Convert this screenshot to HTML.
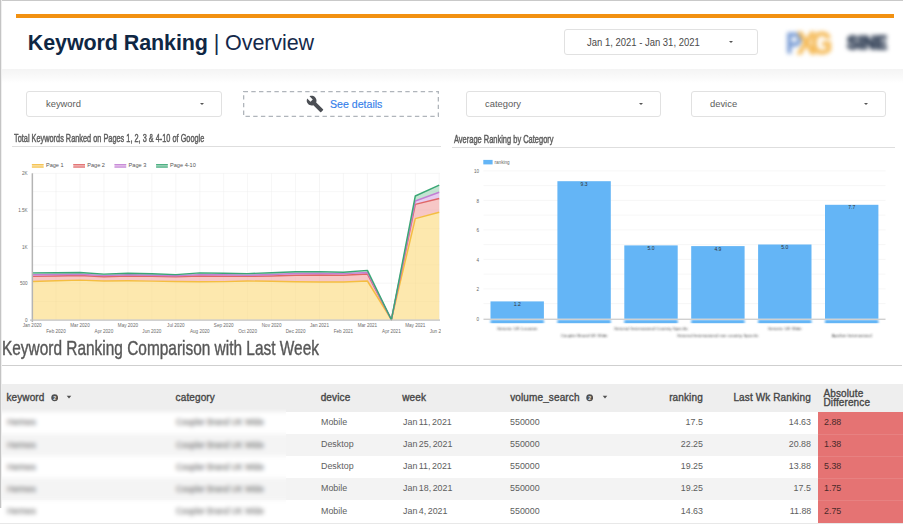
<!DOCTYPE html>
<html>
<head>
<meta charset="utf-8">
<title>Keyword Ranking | Overview</title>
<style>
*{box-sizing:border-box;margin:0;padding:0}
html,body{width:903px;height:524px;overflow:hidden;background:#fff;font-family:"Liberation Sans",sans-serif;}
#page{position:relative;width:903px;height:524px;overflow:hidden;background:#fff}
.abs{position:absolute}
.t{position:absolute;white-space:nowrap;line-height:1;transform-origin:0 50%}
#bt{left:0;top:0;width:903px;height:1px;background:#c9c9c9}
#bl{left:0;top:0;width:2px;height:508px;background:linear-gradient(90deg,#c4c4c4 50%,#efefef 50%)}
#hdr{left:2px;top:1px;width:901px;height:67px;background:#fff}
#shadow{left:2px;top:68.5px;width:901px;height:14px;background:linear-gradient(#f4f4f4,#fafafa 60%,#fff)}
#obar{left:16px;top:13.8px;width:877.6px;height:4px;background:#f29111}
#ttl{left:27.8px;top:33.2px;font-size:21.5px;color:#0f2744;font-weight:700;letter-spacing:-0.1px}
#ttl span{font-weight:400;color:#15294a}
.dd{position:absolute;border:1px solid #e1e1e1;border-radius:3px;background:#fff;height:26px}
.dd .lbl{position:absolute;top:50%;transform:translateY(-50%);font-size:9.4px;color:#5c5c5c;white-space:nowrap;line-height:1}
.dd .arr{position:absolute;top:11px;width:0;height:0;border-left:2.2px solid transparent;border-right:2.2px solid transparent;border-top:2.4px solid #555}
#dashed{left:243px;top:91px;width:196px;height:26px}
#see{left:330px;top:98.5px;font-size:10.6px;color:#3580ea;-webkit-text-stroke:0.15px #3580ea}
.ct{font-family:"Liberation Sans",sans-serif}
.cond{font-size:10.7px;color:#5a5a5a;-webkit-text-stroke:0.45px #606060;transform:scaleX(0.68);transform-origin:0 50%}
.th{font-size:10px;letter-spacing:0.12px;font-weight:400;color:#444;-webkit-text-stroke:0.35px #484848;transform:translateY(-50%)}
.td{font-size:9.2px;color:#5e5e5e;transform:translateY(-50%) scaleX(0.967)}
.t.r{transform-origin:100% 50%}
.bl{color:#8a8a8a;font-size:8.5px;-webkit-text-stroke:0.3px #8a8a8a}
.dt{word-spacing:-1px}
#ct1{transform:scaleX(0.6875)}
#ct2{transform:scaleX(0.699)}
#big{transform:scaleX(0.749)}
</style>
</head>
<body>
<div id="page">
  <div id="hdr" class="abs"></div>
  <div id="shadow" class="abs"></div>
  <div id="obar" class="abs"></div>
  <div id="ttl" class="t">Keyword Ranking <span>| Overview</span></div>

  <div class="dd" style="left:564px;top:29px;width:194px;height:26px">
    <div class="lbl" style="left:22px;top:13.4px;font-size:10.2px;color:#4a4a4a;transform:translateY(-50%) scaleX(0.93);transform-origin:0 50%">Jan 1, 2021 - Jan 31, 2021</div>
    <div class="arr" style="left:164px;top:11.2px"></div>
  </div>

  <div class="abs" style="left:780px;top:22px;width:60px;height:40px;filter:blur(1.9px)">
    <div class="t" style="left:5.5px;top:20.5px;transform:translateY(-50%) scaleX(0.8);font-size:30px;font-weight:700;color:#7a9dd5;-webkit-text-stroke:0.8px #7a9dd5">P</div>
    <div class="t" style="left:16.5px;top:21px;transform:translateY(-50%) scaleX(0.86);font-size:32px;font-weight:700;color:#f5bc5c;letter-spacing:-5px;-webkit-text-stroke:1px #f5bc5c">XG</div>
  </div>
  <div class="abs" style="left:838px;top:26px;width:60px;height:34px;filter:blur(2.2px)">
    <div class="t" style="left:8.5px;top:17.5px;transform:translateY(-50%) scaleX(0.98);font-size:17.5px;font-weight:700;color:#36445a;letter-spacing:0px;-webkit-text-stroke:1.6px #36445a">SINE</div>
  </div>

  <div class="dd" style="left:26px;top:91px;width:196px"><div class="lbl" style="left:19px">keyword</div><div class="arr" style="left:173px"></div></div>
  <svg id="dashed" class="abs" viewBox="0 0 196 26"><rect x="0.6" y="0.6" width="194.8" height="24.8" fill="#fff" stroke="#b0b5bb" stroke-width="1.4" stroke-dasharray="4.4 3.3"/></svg>
  <svg class="abs" style="left:305.5px;top:95px;width:18px;height:18px" viewBox="0 0 24 24"><path fill="#4c4f55" d="M22.7 19l-9.1-9.1c.9-2.3.4-5-1.500-6.900-2-2-5-2.400-7.400-1.300L9 6 6 9 1.600 4.700C.4 7.100.9 10.100 2.900 12.100c1.900 1.900 4.600 2.400 6.900 1.500l9.100 9.100c.4.400 1 .400 1.400 0l2.300-2.300c.5-.4.500-1.100.1-1.400z"/></svg>
  <div id="see" class="t">See details</div>
  <div class="dd" style="left:466px;top:91px;width:195px"><div class="lbl" style="left:18px">category</div><div class="arr" style="left:172px"></div></div>
  <div class="dd" style="left:691px;top:91px;width:195px"><div class="lbl" style="left:18px">device</div><div class="arr" style="left:172px"></div></div>


  <div class="t cond" id="ct1" style="left:13.7px;top:133.4px">Total Keywords Ranked on Pages 1, 2, 3 &amp; 4-10 of Google</div>
  <div class="abs" style="left:11.5px;top:146px;width:429.5px;height:1.3px;background:#dedede"></div>
  <div class="t cond" id="ct2" style="left:454.3px;top:133.9px">Average Ranking by Category</div>
  <div class="abs" style="left:452px;top:147.1px;width:443px;height:1.3px;background:#dedede"></div>

<svg class="abs" style="left:0;top:0;width:452px;height:345px" viewBox="0 0 452 345">
<defs><clipPath id="cl"><rect x="0" y="150" width="441" height="195"/></clipPath></defs>
<g clip-path="url(#cl)">
<path d="M32 173.4H440M32 191.7H440M32 210.0H440M32 228.3H440M32 246.6H440M32 264.9H440M32 283.1H440M32 301.4H440M32 319.7H440M56.0 173.3V319.7M80.0 173.3V319.7M103.9 173.3V319.7M127.9 173.3V319.7M151.8 173.3V319.7M175.8 173.3V319.7M199.8 173.3V319.7M223.7 173.3V319.7M247.6 173.3V319.7M271.6 173.3V319.7M295.6 173.3V319.7M319.5 173.3V319.7M343.4 173.3V319.7M367.4 173.3V319.7M391.4 173.3V319.7M415.3 173.3V319.7M439.2 173.3V319.7" stroke="#f7f7f7" stroke-width="0.8" fill="none"/>
<polygon points="32.1,281.5 56.0,280.8 80.0,280.1 103.9,281.0 127.9,280.8 151.8,281.1 175.8,281.5 199.8,281.8 223.7,281.6 247.6,281.0 271.6,281.3 295.6,281.8 319.5,282.0 343.4,282.0 367.4,281.0 391.4,319.7 415.3,218.6 439.2,212.2 439.2,319.7 415.3,319.7 391.4,319.7 367.4,319.7 343.4,319.7 319.5,319.7 295.6,319.7 271.6,319.7 247.6,319.7 223.7,319.7 199.8,319.7 175.8,319.7 151.8,319.7 127.9,319.7 103.9,319.7 80.0,319.7 56.0,319.7 32.1,319.7" fill="#fde7a9" fill-opacity="0.94"/>
<polygon points="32.1,276.4 56.0,276.0 80.0,275.5 103.9,276.7 127.9,276.0 151.8,276.3 175.8,276.7 199.8,276.0 223.7,276.2 247.6,276.4 271.6,276.0 295.6,275.3 319.5,275.0 343.4,275.3 367.4,274.0 391.4,319.7 415.3,204.4 439.2,198.5 439.2,212.2 415.3,218.6 391.4,319.7 367.4,281.0 343.4,282.0 319.5,282.0 295.6,281.8 271.6,281.3 247.6,281.0 223.7,281.6 199.8,281.8 175.8,281.5 151.8,281.1 127.9,280.8 103.9,281.0 80.0,280.1 56.0,280.8 32.1,281.5" fill="#f6c4c2" fill-opacity="0.94"/>
<polygon points="32.1,274.8 56.0,274.5 80.0,274.2 103.9,275.6 127.9,274.8 151.8,275.2 175.8,275.7 199.8,274.6 223.7,274.8 247.6,275.2 271.6,274.5 295.6,273.5 319.5,273.2 343.4,273.6 367.4,272.5 391.4,319.7 415.3,201.0 439.2,192.2 439.2,198.5 415.3,204.4 391.4,319.7 367.4,274.0 343.4,275.3 319.5,275.0 295.6,275.3 271.6,276.0 247.6,276.4 223.7,276.2 199.8,276.0 175.8,276.7 151.8,276.3 127.9,276.0 103.9,276.7 80.0,275.5 56.0,276.0 32.1,276.4" fill="#e6c9ee" fill-opacity="0.94"/>
<polygon points="32.1,272.9 56.0,272.7 80.0,272.5 103.9,274.1 127.9,273.2 151.8,273.8 175.8,274.6 199.8,272.9 223.7,273.2 247.6,273.6 271.6,272.8 295.6,271.8 319.5,271.6 343.4,272.2 367.4,270.4 391.4,319.7 415.3,196.0 439.2,185.1 439.2,192.2 415.3,201.0 391.4,319.7 367.4,272.5 343.4,273.6 319.5,273.2 295.6,273.5 271.6,274.5 247.6,275.2 223.7,274.8 199.8,274.6 175.8,275.7 151.8,275.2 127.9,274.8 103.9,275.6 80.0,274.2 56.0,274.5 32.1,274.8" fill="#bfe2cf" fill-opacity="0.94"/>
<path d="M32 173.4H440M32 191.7H440M32 210.0H440M32 228.3H440M32 246.6H440M32 264.9H440M32 283.1H440M32 301.4H440M32 319.7H440M56.0 173.3V319.7M80.0 173.3V319.7M103.9 173.3V319.7M127.9 173.3V319.7M151.8 173.3V319.7M175.8 173.3V319.7M199.8 173.3V319.7M223.7 173.3V319.7M247.6 173.3V319.7M271.6 173.3V319.7M295.6 173.3V319.7M319.5 173.3V319.7M343.4 173.3V319.7M367.4 173.3V319.7M391.4 173.3V319.7M415.3 173.3V319.7M439.2 173.3V319.7" stroke="#000" stroke-opacity="0.025" stroke-width="0.8" fill="none"/>
<polyline points="32.1,281.5 56.0,280.8 80.0,280.1 103.9,281.0 127.9,280.8 151.8,281.1 175.8,281.5 199.8,281.8 223.7,281.6 247.6,281.0 271.6,281.3 295.6,281.8 319.5,282.0 343.4,282.0 367.4,281.0 391.4,319.7 415.3,218.6 439.2,212.2" fill="none" stroke="#f4be41" stroke-width="1.45" stroke-linejoin="round"/>
<polyline points="32.1,276.4 56.0,276.0 80.0,275.5 103.9,276.7 127.9,276.0 151.8,276.3 175.8,276.7 199.8,276.0 223.7,276.2 247.6,276.4 271.6,276.0 295.6,275.3 319.5,275.0 343.4,275.3 367.4,274.0 391.4,319.7 415.3,204.4 439.2,198.5" fill="none" stroke="#e06666" stroke-width="1.45" stroke-linejoin="round"/>
<polyline points="32.1,274.8 56.0,274.5 80.0,274.2 103.9,275.6 127.9,274.8 151.8,275.2 175.8,275.7 199.8,274.6 223.7,274.8 247.6,275.2 271.6,274.5 295.6,273.5 319.5,273.2 343.4,273.6 367.4,272.5 391.4,319.7 415.3,201.0 439.2,192.2" fill="none" stroke="#c27fd3" stroke-width="1.45" stroke-linejoin="round"/>
<polyline points="32.1,272.9 56.0,272.7 80.0,272.5 103.9,274.1 127.9,273.2 151.8,273.8 175.8,274.6 199.8,272.9 223.7,273.2 247.6,273.6 271.6,272.8 295.6,271.8 319.5,271.6 343.4,272.2 367.4,270.4 391.4,319.7 415.3,196.0 439.2,185.1" fill="none" stroke="#3aa775" stroke-width="1.45" stroke-linejoin="round"/>
<path d="M32.35 173.3V322" stroke="#b4b4b4" stroke-width="1.5"/>
<path d="M30 320.2H440" stroke="#c2c2c2" stroke-width="1.3"/>
<rect x="31.900000000000002" y="164.1" width="11.7" height="3.4" fill="#f4be41" fill-opacity="0.55"/><path d="M31.900000000000002 164.5h11.7M31.900000000000002 167.2h11.7" stroke="#f4be41" stroke-width="0.8"/>
<text transform="translate(45.9,167.2) scale(0.95,1)" class="ct" font-size="5.9" fill="#555">Page 1</text>
<rect x="73.3" y="164.1" width="11.7" height="3.4" fill="#e06666" fill-opacity="0.55"/><path d="M73.3 164.5h11.7M73.3 167.2h11.7" stroke="#e06666" stroke-width="0.8"/>
<text transform="translate(87.2,167.2) scale(0.95,1)" class="ct" font-size="5.9" fill="#555">Page 2</text>
<rect x="114.5" y="164.1" width="11.7" height="3.4" fill="#c27fd3" fill-opacity="0.55"/><path d="M114.5 164.5h11.7M114.5 167.2h11.7" stroke="#c27fd3" stroke-width="0.8"/>
<text transform="translate(128.6,167.2) scale(0.95,1)" class="ct" font-size="5.9" fill="#555">Page 3</text>
<rect x="156.1" y="164.1" width="11.7" height="3.4" fill="#3aa775" fill-opacity="0.55"/><path d="M156.1 164.5h11.7M156.1 167.2h11.7" stroke="#3aa775" stroke-width="0.8"/>
<text transform="translate(170.0,167.2) scale(0.95,1)" class="ct" font-size="5.9" fill="#555">Page 4-10</text>
<text transform="translate(27.6,175.3) scale(0.87,1)" class="ct" font-size="5.3" text-anchor="end" fill="#6a6a6a">2K</text>
<text transform="translate(27.6,211.9) scale(0.87,1)" class="ct" font-size="5.3" text-anchor="end" fill="#6a6a6a">1.5K</text>
<text transform="translate(27.6,248.5) scale(0.87,1)" class="ct" font-size="5.3" text-anchor="end" fill="#6a6a6a">1K</text>
<text transform="translate(27.6,285.0) scale(0.87,1)" class="ct" font-size="5.3" text-anchor="end" fill="#6a6a6a">500</text>
<text transform="translate(27.6,321.6) scale(0.87,1)" class="ct" font-size="5.3" text-anchor="end" fill="#6a6a6a">0</text>
<text transform="translate(32.1,327.2) scale(0.87,1)" class="ct" font-size="5.3" text-anchor="middle" fill="#6a6a6a">Jan 2020</text>
<text transform="translate(56.0,333.4) scale(0.87,1)" class="ct" font-size="5.3" text-anchor="middle" fill="#6a6a6a">Feb 2020</text>
<text transform="translate(80.0,327.2) scale(0.87,1)" class="ct" font-size="5.3" text-anchor="middle" fill="#6a6a6a">Mar 2020</text>
<text transform="translate(103.9,333.4) scale(0.87,1)" class="ct" font-size="5.3" text-anchor="middle" fill="#6a6a6a">Apr 2020</text>
<text transform="translate(127.9,327.2) scale(0.87,1)" class="ct" font-size="5.3" text-anchor="middle" fill="#6a6a6a">May 2020</text>
<text transform="translate(151.8,333.4) scale(0.87,1)" class="ct" font-size="5.3" text-anchor="middle" fill="#6a6a6a">Jun 2020</text>
<text transform="translate(175.8,327.2) scale(0.87,1)" class="ct" font-size="5.3" text-anchor="middle" fill="#6a6a6a">Jul 2020</text>
<text transform="translate(199.8,333.4) scale(0.87,1)" class="ct" font-size="5.3" text-anchor="middle" fill="#6a6a6a">Aug 2020</text>
<text transform="translate(223.7,327.2) scale(0.87,1)" class="ct" font-size="5.3" text-anchor="middle" fill="#6a6a6a">Sep 2020</text>
<text transform="translate(247.6,333.4) scale(0.87,1)" class="ct" font-size="5.3" text-anchor="middle" fill="#6a6a6a">Oct 2020</text>
<text transform="translate(271.6,327.2) scale(0.87,1)" class="ct" font-size="5.3" text-anchor="middle" fill="#6a6a6a">Nov 2020</text>
<text transform="translate(295.6,333.4) scale(0.87,1)" class="ct" font-size="5.3" text-anchor="middle" fill="#6a6a6a">Dec 2020</text>
<text transform="translate(319.5,327.2) scale(0.87,1)" class="ct" font-size="5.3" text-anchor="middle" fill="#6a6a6a">Jan 2021</text>
<text transform="translate(343.4,333.4) scale(0.87,1)" class="ct" font-size="5.3" text-anchor="middle" fill="#6a6a6a">Feb 2021</text>
<text transform="translate(367.4,327.2) scale(0.87,1)" class="ct" font-size="5.3" text-anchor="middle" fill="#6a6a6a">Mar 2021</text>
<text transform="translate(391.4,333.4) scale(0.87,1)" class="ct" font-size="5.3" text-anchor="middle" fill="#6a6a6a">Apr 2021</text>
<text transform="translate(415.3,327.2) scale(0.87,1)" class="ct" font-size="5.3" text-anchor="middle" fill="#6a6a6a">May 2021</text>
<text transform="translate(439.2,333.4) scale(0.87,1)" class="ct" font-size="5.3" text-anchor="middle" fill="#6a6a6a">Jun 2021</text>
</g></svg>
<svg class="abs" style="left:452px;top:0;width:451px;height:345px" viewBox="452 0 451 345">
<defs><filter id="b1" x="-20%" y="-100%" width="140%" height="300%"><feGaussianBlur stdDeviation="0.9"/></filter><filter id="b2" x="-10%" y="-200%" width="120%" height="500%"><feGaussianBlur stdDeviation="1.1 0.8"/></filter><filter id="b3" x="-10%" y="-100%" width="120%" height="300%"><feGaussianBlur stdDeviation="0.8 0.55"/></filter></defs>
<path d="M483.5 318.4H885.5M483.5 303.6H885.5M483.5 288.9H885.5M483.5 274.1H885.5M483.5 259.4H885.5M483.5 244.6H885.5M483.5 229.9H885.5M483.5 215.1H885.5M483.5 200.4H885.5M483.5 185.6H885.5M483.5 170.9H885.5" stroke="#f0f0f0" stroke-width="0.6" fill="none"/>
<rect x="490.5" y="301.4" width="53.4" height="17.3" fill="#64b5f6"/>
<text x="517.2" y="306.0" class="ct" font-size="5" text-anchor="middle" fill="#333">1.2</text>
<rect x="490.5" y="320.2" width="53.4" height="3" fill="#64b5f6" filter="url(#b3)"/>
<text x="517.2" y="330.4" class="ct" font-size="4.4" text-anchor="middle" fill="#3c3c3c" filter="url(#b2)">Generic UK Location</text>
<rect x="557.4" y="181.2" width="53.4" height="137.5" fill="#64b5f6"/>
<text x="584.1" y="185.8" class="ct" font-size="5" text-anchor="middle" fill="#333">9.3</text>
<rect x="557.4" y="320.2" width="53.4" height="3" fill="#64b5f6" filter="url(#b3)"/>
<text x="584.1" y="336.5" class="ct" font-size="4.4" text-anchor="middle" fill="#3c3c3c" filter="url(#b2)">Coupler Brand UK Wide</text>
<rect x="624.3" y="245.4" width="53.4" height="73.3" fill="#64b5f6"/>
<text x="651.0" y="250.0" class="ct" font-size="5" text-anchor="middle" fill="#333">5.0</text>
<rect x="624.3" y="320.2" width="53.4" height="3" fill="#64b5f6" filter="url(#b3)"/>
<text x="651.0" y="330.4" class="ct" font-size="4.4" text-anchor="middle" fill="#3c3c3c" filter="url(#b2)">General International Country Specific</text>
<rect x="691.2" y="246.1" width="53.4" height="72.6" fill="#64b5f6"/>
<text x="717.9" y="250.7" class="ct" font-size="5" text-anchor="middle" fill="#333">4.9</text>
<rect x="691.2" y="320.2" width="53.4" height="3" fill="#64b5f6" filter="url(#b3)"/>
<text x="717.9" y="336.5" class="ct" font-size="4.4" text-anchor="middle" fill="#3c3c3c" filter="url(#b2)">General International non country Specific</text>
<rect x="758.1" y="244.5" width="53.4" height="74.2" fill="#64b5f6"/>
<text x="784.8" y="249.1" class="ct" font-size="5" text-anchor="middle" fill="#333">5.0</text>
<rect x="758.1" y="320.2" width="53.4" height="3" fill="#64b5f6" filter="url(#b3)"/>
<text x="784.8" y="330.4" class="ct" font-size="4.4" text-anchor="middle" fill="#3c3c3c" filter="url(#b2)">Generic UK Wide</text>
<rect x="825.0" y="204.8" width="53.4" height="113.9" fill="#64b5f6"/>
<text x="851.7" y="209.4" class="ct" font-size="5" text-anchor="middle" fill="#333">7.7</text>
<rect x="825.0" y="320.2" width="53.4" height="3" fill="#64b5f6" filter="url(#b3)"/>
<text x="851.7" y="336.5" class="ct" font-size="4.4" text-anchor="middle" fill="#3c3c3c" filter="url(#b2)">Apollon International</text>
<path d="M483.5 319.3H885.5" stroke="#b5b5b5" stroke-width="0.8"/>
<path d="M478 324H885.5" stroke="#e6e6e6" stroke-width="0.8" filter="url(#b1)"/>
<text x="479" y="320.6" class="ct" font-size="4.6" text-anchor="end" fill="#666">0</text>
<text x="479" y="291.1" class="ct" font-size="4.6" text-anchor="end" fill="#666">2</text>
<text x="479" y="261.6" class="ct" font-size="4.6" text-anchor="end" fill="#666">4</text>
<text x="479" y="232.1" class="ct" font-size="4.6" text-anchor="end" fill="#666">6</text>
<text x="479" y="202.6" class="ct" font-size="4.6" text-anchor="end" fill="#666">8</text>
<text x="479" y="173.1" class="ct" font-size="4.6" text-anchor="end" fill="#666">10</text>
<rect x="483.3" y="159.9" width="9.3" height="4.5" fill="#64b5f6"/>
<text x="494.5" y="164" class="ct" font-size="4.6" fill="#666">ranking</text>
</svg>
<div class="t cond" id="big" style="left:2.4px;top:337.9px;font-size:20.6px;color:#555">Keyword Ranking Comparison with Last Week</div>
<div class="abs" style="left:2px;top:365px;width:900px;height:1px;background:#cfcfcf"></div>
<div class="abs" style="left:2px;top:384px;width:901px;height:28px;background:#eeeeee"></div>
<div class="abs" style="left:2px;top:412.0px;width:816px;height:22.1px;background:#fff"></div>
<div class="abs" style="left:2px;top:434.1px;width:816px;height:22.1px;background:#f3f3f3"></div>
<div class="abs" style="left:2px;top:456.2px;width:816px;height:22.2px;background:#fff"></div>
<div class="abs" style="left:2px;top:478.4px;width:816px;height:22.1px;background:#f3f3f3"></div>
<div class="abs" style="left:2px;top:500.5px;width:816px;height:22.1px;background:#fff"></div>
<div class="abs" style="left:818px;top:412px;width:85px;height:110.6px;background:#e57373"></div>
<div class="abs" style="left:818px;top:433.6px;width:85px;height:1px;background:rgba(255,255,255,0.10)"></div>
<div class="abs" style="left:818px;top:455.7px;width:85px;height:1px;background:rgba(255,255,255,0.10)"></div>
<div class="abs" style="left:818px;top:477.9px;width:85px;height:1px;background:rgba(255,255,255,0.10)"></div>
<div class="abs" style="left:818px;top:500.0px;width:85px;height:1px;background:rgba(255,255,255,0.10)"></div>
<div class="t th" style="left:6.4px;top:398.1px">keyword</div><svg class="abs" style="left:50.699999999999996px;top:394.40000000000003px;width:7.4px;height:7.4px" viewBox="0 0 24 24"><circle cx="12" cy="12" r="11.2" fill="#505050"/><text x="12" y="18.2" text-anchor="middle" font-size="17" font-weight="700" class="ct" fill="#ededed">2</text></svg><svg class="abs" style="left:65.4px;top:393.2px;width:8px;height:8px" viewBox="0 0 8 8"><path d="M1.7 2.7h4.6L4 5.5z" fill="#505050"/></svg>
<div class="t th" style="left:175.6px;top:398.1px">category</div>
<div class="t th" style="left:320.7px;top:398.1px">device</div>
<div class="t th" style="left:402.2px;top:398.1px">week</div>
<div class="t th" style="left:510.2px;top:398.1px">volume_search</div><svg class="abs" style="left:586.0px;top:394.40000000000003px;width:7.4px;height:7.4px" viewBox="0 0 24 24"><circle cx="12" cy="12" r="11.2" fill="#505050"/><text x="12" y="18.2" text-anchor="middle" font-size="17" font-weight="700" class="ct" fill="#ededed">2</text></svg><svg class="abs" style="left:600.5px;top:393.2px;width:8px;height:8px" viewBox="0 0 8 8"><path d="M1.7 2.7h4.6L4 5.5z" fill="#505050"/></svg>
<div class="t th r" style="right:200.20000000000005px;top:398.1px">ranking</div>
<div class="t th r" style="right:92.20000000000005px;top:398.1px">Last Wk Ranking</div>
<div class="t th" style="left:823.5px;top:394.0px">Absolute</div>
<div class="t th" style="left:823.5px;top:403.2px">Difference</div>
<div class="abs" style="left:2px;top:409px;width:284px;height:113.60000000000002px;overflow:hidden">
<div class="abs" style="left:-12px;top:-12px;width:308px;height:137.60000000000002px;filter:blur(2.3px)">
<div class="abs" style="left:0;top:0;width:100%;height:14.600000000000023px;background:#eeeeee"></div>
<div class="abs" style="left:0;top:15.0px;width:100%;height:22.1px;background:#fff"></div>
<div class="abs" style="left:0;top:37.10000000000002px;width:100%;height:22.1px;background:#f4f4f4"></div>
<div class="abs" style="left:0;top:59.19999999999999px;width:100%;height:22.2px;background:#fff"></div>
<div class="abs" style="left:0;top:81.39999999999998px;width:100%;height:22.1px;background:#f4f4f4"></div>
<div class="abs" style="left:0;top:103.5px;width:100%;height:40.0px;background:#fff"></div>
<div class="t td bl" style="left:16.8px;top:25.399999999999977px">Hermes</div>
<div class="t td bl" style="left:186px;top:25.399999999999977px">Coupler Brand UK Wide</div>
<div class="t td bl" style="left:16.8px;top:47.599999999999966px">Hermes</div>
<div class="t td bl" style="left:186px;top:47.599999999999966px">Coupler Brand UK Wide</div>
<div class="t td bl" style="left:16.8px;top:69.79999999999995px">Hermes</div>
<div class="t td bl" style="left:186px;top:69.79999999999995px">Coupler Brand UK Wide</div>
<div class="t td bl" style="left:16.8px;top:92.0px">Hermes</div>
<div class="t td bl" style="left:186px;top:92.0px">Coupler Brand UK Wide</div>
<div class="t td bl" style="left:16.8px;top:114.19999999999999px">Hermes</div>
<div class="t td bl" style="left:186px;top:114.19999999999999px">Coupler Brand UK Wide</div>
</div></div>
<div class="t td" style="left:320.7px;top:422.7px">Mobile</div>
<div class="t td dt" style="left:402.5px;top:422.7px">Jan 11, 2021</div>
<div class="t td" style="left:510.2px;top:422.7px">550000</div>
<div class="t td r" style="right:200px;top:422.7px">17.5</div>
<div class="t td r" style="right:91.70000000000005px;top:422.7px">14.63</div>
<div class="t td" style="left:823.5px;top:422.7px;color:#4a2a2a">2.88</div>
<div class="t td" style="left:320.7px;top:444.9px">Desktop</div>
<div class="t td dt" style="left:402.5px;top:444.9px">Jan 25, 2021</div>
<div class="t td" style="left:510.2px;top:444.9px">550000</div>
<div class="t td r" style="right:200px;top:444.9px">22.25</div>
<div class="t td r" style="right:91.70000000000005px;top:444.9px">20.88</div>
<div class="t td" style="left:823.5px;top:444.9px;color:#4a2a2a">1.38</div>
<div class="t td" style="left:320.7px;top:467.09999999999997px">Desktop</div>
<div class="t td dt" style="left:402.5px;top:467.09999999999997px">Jan 11, 2021</div>
<div class="t td" style="left:510.2px;top:467.09999999999997px">550000</div>
<div class="t td r" style="right:200px;top:467.09999999999997px">19.25</div>
<div class="t td r" style="right:91.70000000000005px;top:467.09999999999997px">13.88</div>
<div class="t td" style="left:823.5px;top:467.09999999999997px;color:#4a2a2a">5.38</div>
<div class="t td" style="left:320.7px;top:489.29999999999995px">Mobile</div>
<div class="t td dt" style="left:402.5px;top:489.29999999999995px">Jan 18, 2021</div>
<div class="t td" style="left:510.2px;top:489.29999999999995px">550000</div>
<div class="t td r" style="right:200px;top:489.29999999999995px">19.25</div>
<div class="t td r" style="right:91.70000000000005px;top:489.29999999999995px">17.5</div>
<div class="t td" style="left:823.5px;top:489.29999999999995px;color:#4a2a2a">1.75</div>
<div class="t td" style="left:320.7px;top:511.5px">Mobile</div>
<div class="t td dt" style="left:402.5px;top:511.5px">Jan 4, 2021</div>
<div class="t td" style="left:510.2px;top:511.5px">550000</div>
<div class="t td r" style="right:200px;top:511.5px">14.63</div>
<div class="t td r" style="right:91.70000000000005px;top:511.5px">11.88</div>
<div class="t td" style="left:823.5px;top:511.5px;color:#4a2a2a">2.75</div>
<div class="abs" style="left:0;top:522.6px;width:903px;height:1.4px;background:#e8e8e8"></div>
  <div id="bt" class="abs"></div>
  <div id="bl" class="abs"></div>
</div>
</body>
</html>
